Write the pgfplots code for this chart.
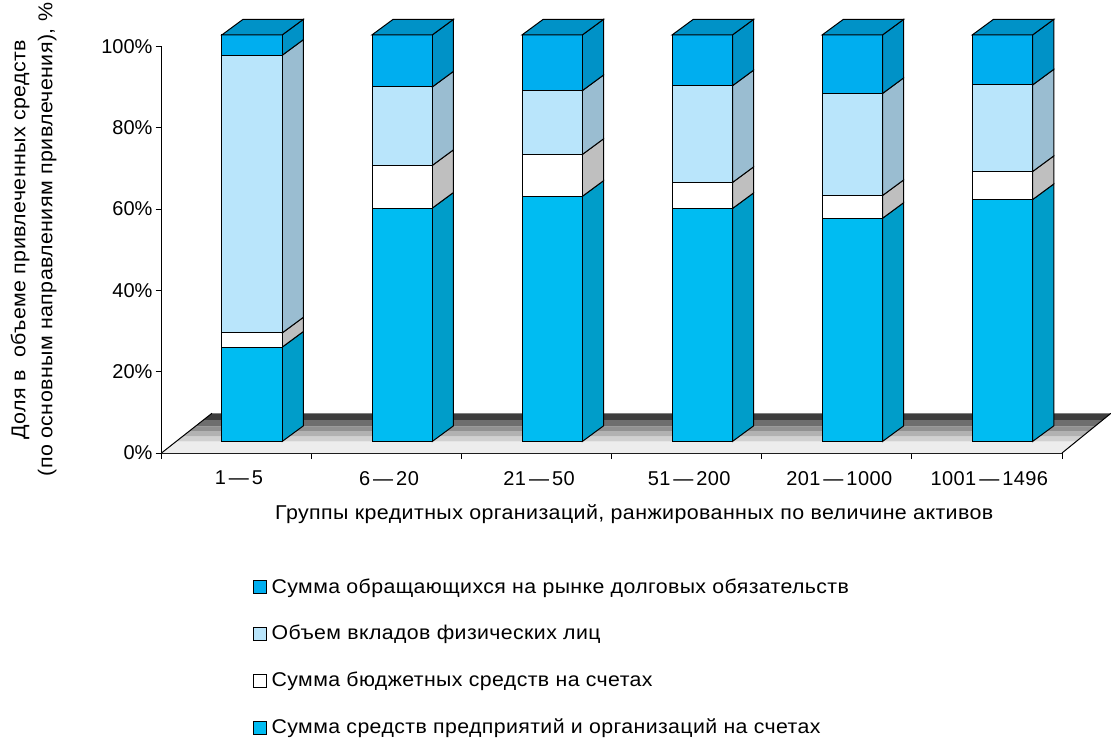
\documentclass[border=0pt]{standalone}
\usepackage{fontspec}
\setmainfont{Liberation Sans}
\newfontfamily\widefont[FakeStretch=1.07,LetterSpace=2]{Liberation Sans}
\newfontfamily\tickfont[LetterSpace=2]{Liberation Sans}
\usepackage{pgfplots}
\usepackage{pgfplotstable}
\pgfplotsset{compat=1.18}

\definecolor{firm}{HTML}{00BCF2}
\definecolor{firmside}{HTML}{009DC9}
\definecolor{budgside}{HTML}{BFBFBF}
\definecolor{depo}{HTML}{B9E5FB}
\definecolor{deposide}{HTML}{9ABDD1}
\definecolor{debt}{HTML}{00AEEF}
\definecolor{debtside}{HTML}{0092C7}

% shares of each group, %
\pgfplotstableread{
group firm budget depo debt
0 23.2 3.5 68.3 5.0
1 57.4 10.5 19.3 12.8
2 60.3 10.3 15.7 13.7
3 57.3 6.4 23.8 12.5
4 54.9 5.6 25.1 14.4
5 59.5 6.9 21.3 12.3
}\shares

\newcommand{\dd}{\kern1.5pt—\kern1.5pt}
% one band of the floor
\newcommand{\floorband}[3]{%
  \pgfmathsetmacro\fla{#1*0.0344}\pgfmathsetmacro\flb{#2*0.0344}%
  \pgfmathsetmacro\flc{6+#2*0.0334}\pgfmathsetmacro\fld{6+#1*0.0334}%
  \addplot[forget plot,draw=none,fill=#3] coordinates {(\fla,#1)(\fld,#1)(\flc,#2)(\flb,#2)} --cycle;
}
% one segment of a bar: row, column, front colour, side colour
\newcommand{\segment}[4]{%
  \pgfplotstablegetelem{#1}{#2}\of\shares
  \pgfmathsetmacro\hi{\lo+\pgfplotsretval}%
  \pgfmathsetmacro\lob{\lo+3.81}\pgfmathsetmacro\hib{\hi+3.81}%
  \addplot[forget plot,draw=black,line width=0.5pt,fill=#4] coordinates {(\xb,\lo)(\xc,\lob)(\xc,\hib)(\xb,\hi)} --cycle;
  \addplot[forget plot,draw=black,line width=0.5pt,fill=#3] coordinates {(\xa,\lo)(\xb,\lo)(\xb,\hi)(\xa,\hi)} --cycle;
  \global\let\lo\hi
}

\begin{document}
\begin{tikzpicture}
\useasboundingbox (-80.75pt,-143pt) rectangle ++(555.5pt,369.5pt);
\begin{axis}[
  scale only axis,
  width=450.25pt,
  height=203.25pt,
  xmin=0,xmax=6,ymin=0,ymax=100,
  clip=false,
  axis lines=left,
  axis line style={-,line width=0.5pt},
  tick style={black,line width=0.5pt},
  tick align=outside,
  major tick length=3pt,
  xtick={0,1,2,3,4,5,6},
  x tick label as interval,
  xticklabels={1\dd5,6\dd20,21\dd50,51\dd200,201\dd1000,1001\dd1496},
  ytick={0,20,40,60,80,100},
  yticklabels={0\%,20\%,40\%,60\%,80\%,100\%},
  tick label style={font=\fontsize{10}{11}\selectfont},
  xticklabel style={font=\tickfont\fontsize{10}{11}\selectfont,yshift=-2.5pt,xshift=1.2pt},
  yticklabel style={xshift=2pt},
  xlabel={Группы кредитных организаций, ранжированных по величине активов},
  xlabel style={font=\widefont\fontsize{10}{11}\selectfont,at={(rel axis cs:0.525,0)},anchor=center,yshift=-30.5pt},
  ylabel={Доля в\ \ объеме привлеченных средств\\(по основным направлениям привлечения), \%},
  ylabel style={font=\widefont\fontsize{10}{13.5}\selectfont,align=center,at={(rel axis cs:0,0.525)},anchor=center,yshift=64pt},
  legend style={draw=none,fill=none,at={(rel axis cs:0.101,0)},anchor=north west,yshift=-60.5pt,
    font=\widefont\fontsize{9.95}{11}\selectfont,row sep=10.65pt,inner sep=0pt,/tikz/every odd column/.append style={column sep=0.5pt}},
  legend cell align=left,
  legsq/.style={legend image code/.code={\draw[black,line width=0.4pt,fill=#1] (0pt,-3pt) rectangle (6.5pt,3.5pt);}},
]
\floorband{8.1}{9.77}{black!76}
\floorband{6.5}{8.1}{black!57}
\floorband{5.4}{6.5}{black!43}
\floorband{4.0}{5.4}{black!30}
\floorband{2.8}{4.0}{black!18}
\floorband{0}{2.8}{black!7}
\addplot[forget plot,black,line width=0.5pt] coordinates {(0,0)(0.336,9.77)};
\addplot[forget plot,black,line width=0.5pt] coordinates {(6,0)(6.326,9.77)};

\pgfplotsforeachungrouped \i in {0,...,5}{
  \pgfmathsetmacro\xa{\i+0.403}\pgfmathsetmacro\xb{\i+0.805}\pgfmathsetmacro\xc{\xb+0.14}\pgfmathsetmacro\xd{\xa+0.14}
  \gdef\lo{2.87}
  \segment{\i}{firm}{firm}{firmside}
  \segment{\i}{budget}{white}{budgside}
  \segment{\i}{depo}{depo}{deposide}
  \segment{\i}{debt}{debt}{debtside}
  \pgfmathsetmacro\hib{\lo+3.81}
  \addplot[forget plot,draw=black,line width=0.5pt,fill=debtside] coordinates {(\xa,\lo)(\xb,\lo)(\xc,\hib)(\xd,\hib)} --cycle;
}

\addlegendimage{legsq=debt}
\addlegendentry{Сумма обращающихся на рынке долговых обязательств}
\addlegendimage{legsq=depo}
\addlegendentry{Объем вкладов физических лиц}
\addlegendimage{legsq=white}
\addlegendentry{Сумма бюджетных средств на счетах}
\addlegendimage{legsq=firm}
\addlegendentry{Сумма средств предприятий и организаций на счетах}
\end{axis}
\end{tikzpicture}
\end{document}
